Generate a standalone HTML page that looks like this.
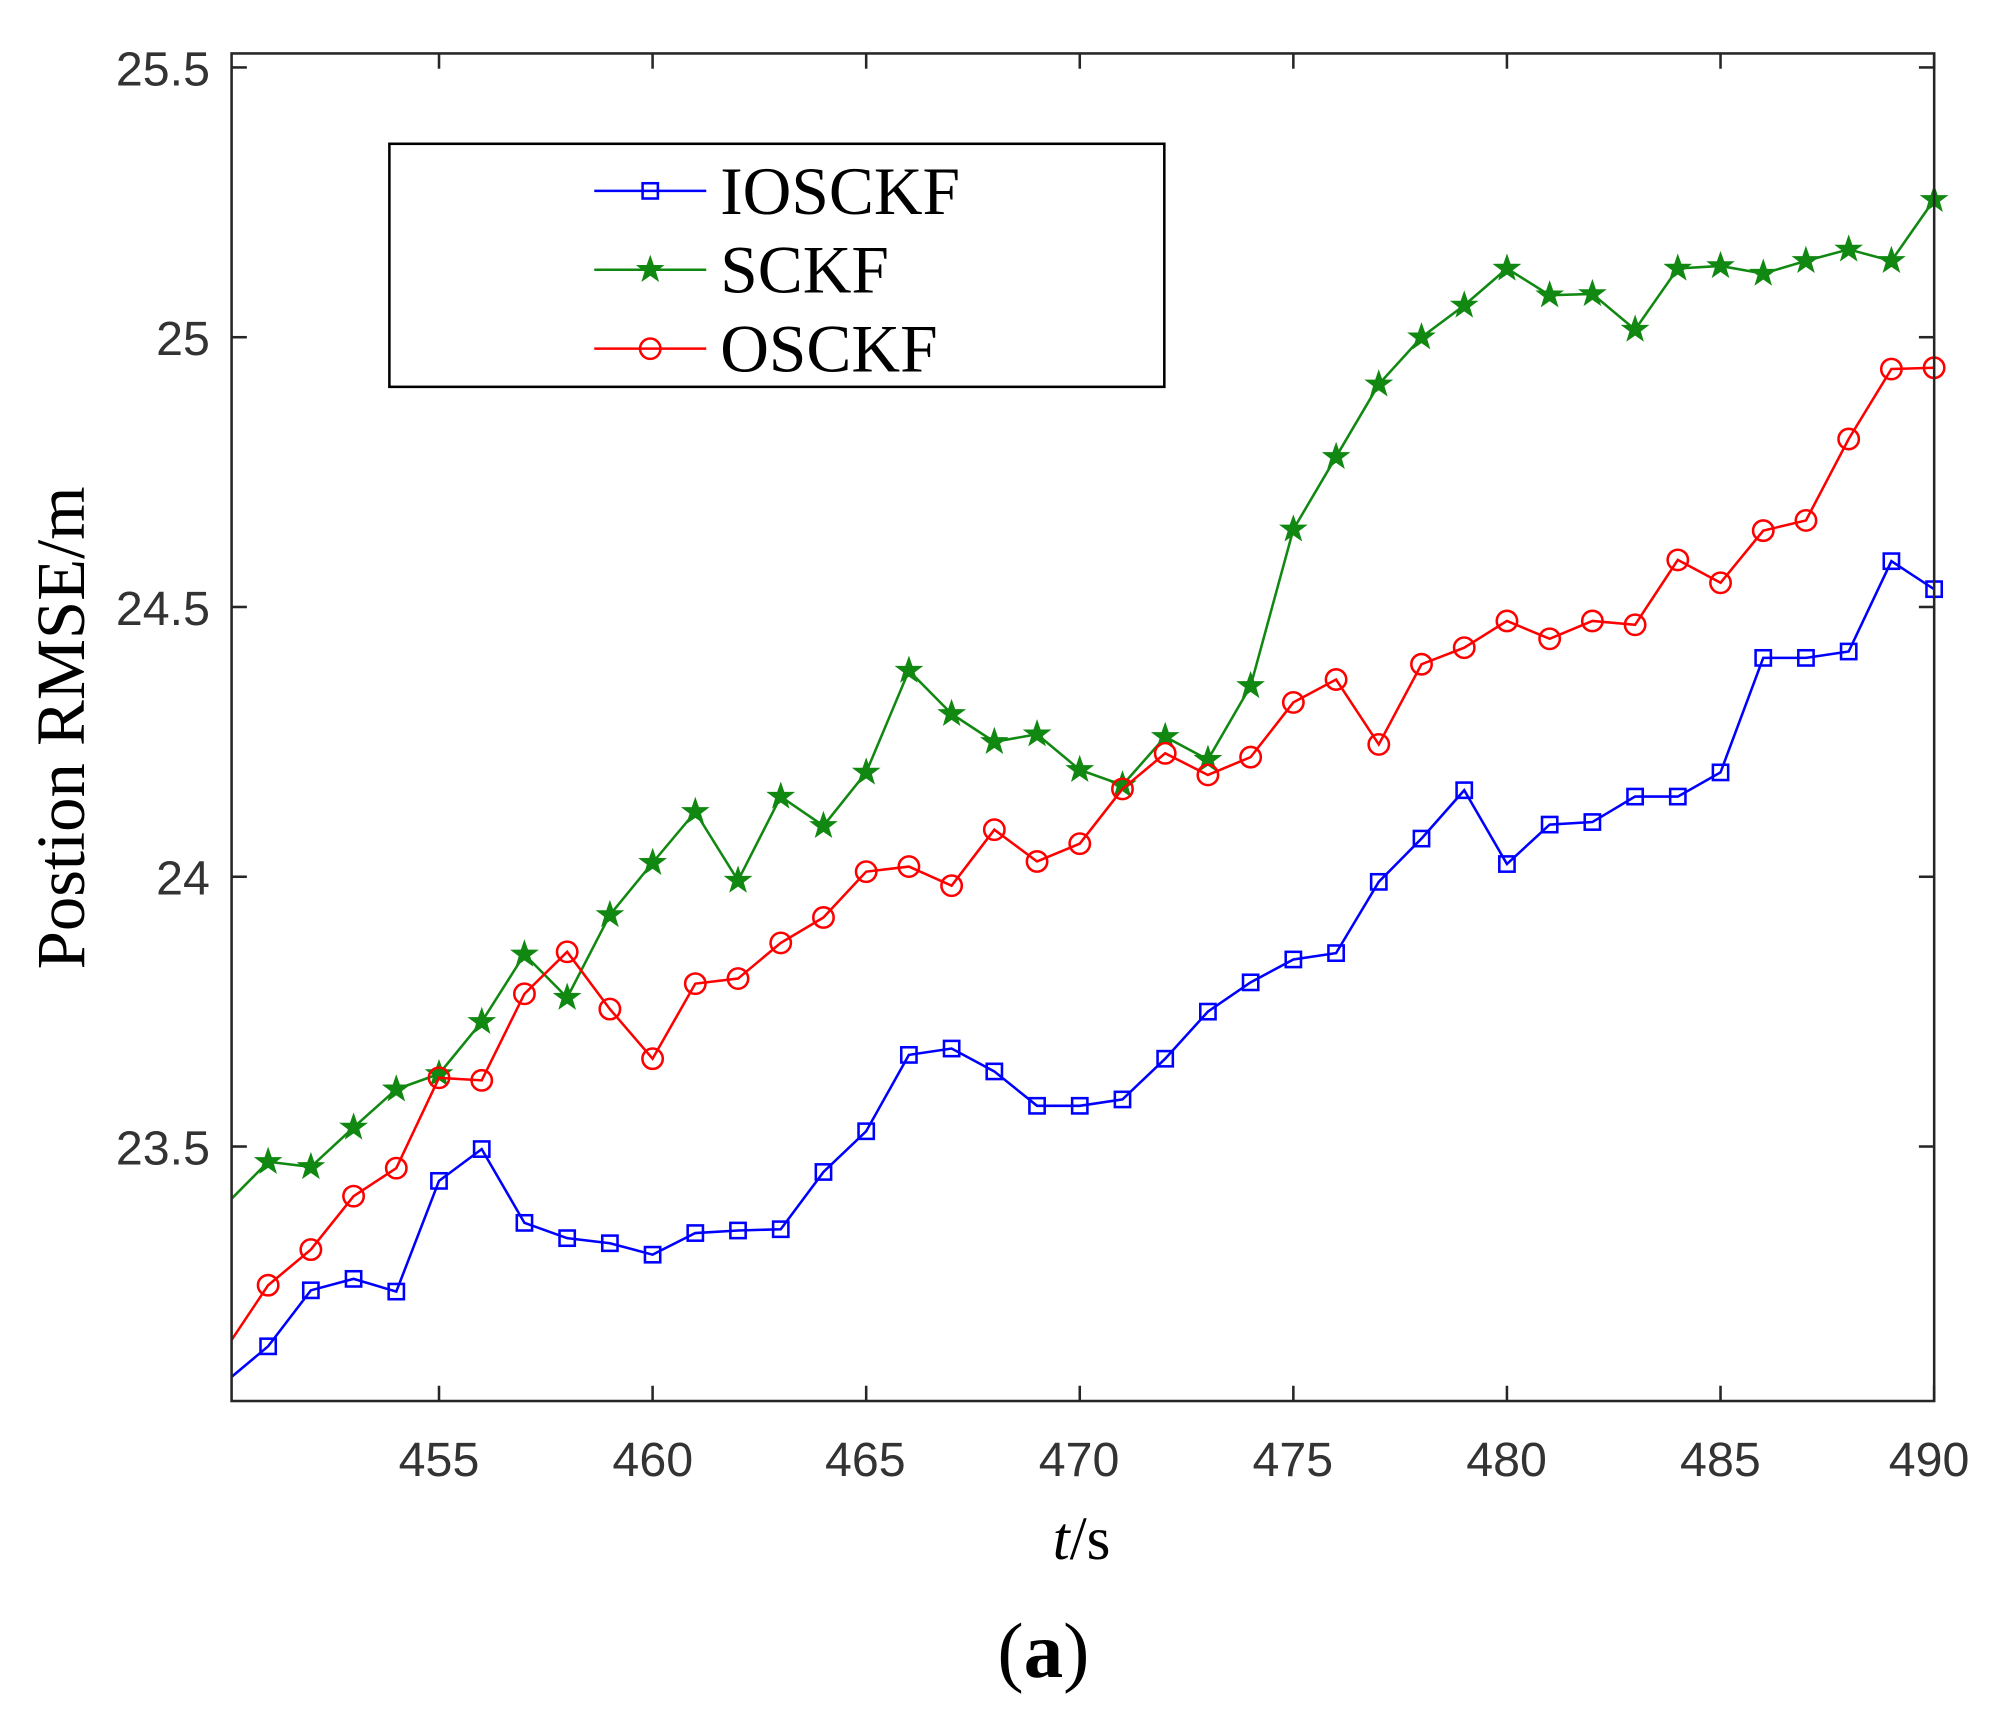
<!DOCTYPE html>
<html><head><meta charset="utf-8"><style>html,body{margin:0;padding:0;background:#fff;}svg{display:block;}</style></head>
<body>
<svg id="s" width="1995" height="1711" viewBox="0 0 1567.8 1344.6" preserveAspectRatio="none" xmlns="http://www.w3.org/2000/svg">
<rect x="0" y="0" width="1568" height="1345" fill="#fff"/>
<g id="ticks" stroke="#262626" stroke-width="2"></g>
<g id="series"></g>
<rect x="182" y="42" width="1338" height="1059" fill="none" stroke="#262626" stroke-width="2"/>
<g font-family="Liberation Sans, sans-serif" font-size="38" fill="#333" text-anchor="end">
<text x="165" y="67">25.5</text><text x="165" y="279">25</text><text x="165" y="491">24.5</text><text x="165" y="703">24</text><text x="165" y="915">23.5</text>
</g>
<g font-family="Liberation Sans, sans-serif" font-size="38" fill="#333" text-anchor="middle">
<text x="345" y="1160">455</text><text x="513" y="1160">460</text><text x="680" y="1160">465</text><text x="848" y="1160">470</text><text x="1016" y="1160">475</text><text x="1184" y="1160">480</text><text x="1352" y="1160">485</text><text x="1516" y="1160">490</text>
</g>
<text x="850" y="1225" font-family="Liberation Serif, serif" font-size="48" text-anchor="middle"><tspan font-style="italic">t</tspan>/s</text>
<text x="820" y="1318" font-family="Liberation Serif, serif" font-size="62" text-anchor="middle">(<tspan font-weight="bold">a</tspan>)</text>
<text transform="translate(66,572) rotate(-90)" font-family="Liberation Serif, serif" font-size="54" text-anchor="middle">Postion RMSE/m</text>
<rect x="306" y="113" width="609" height="191" fill="#fff" stroke="#000" stroke-width="2"/>
<g id="leg"></g>
<g font-family="Liberation Serif, serif" font-size="53" fill="#000">
<text x="566" y="168">IOSCKF</text><text x="566" y="230">SCKF</text><text x="566" y="292">OSCKF</text>
</g>
</svg>
<script>
const NS="http://www.w3.org/2000/svg";
function el(p,t,a){const e=document.createElementNS(NS,t);for(const k in a)e.setAttribute(k,a[k]);p.appendChild(e);return e;}
const tk=document.getElementById('ticks');
[53,265,477,689,901].forEach(y=>{el(tk,'line',{x1:182,y1:y,x2:194,y2:y});el(tk,'line',{x1:1508,y1:y,x2:1520,y2:y});});
for(let t=455;t<=490;t+=5){const x=345+(t-455)*33.57;el(tk,'line',{x1:x,y1:1101,x2:x,y2:1089});el(tk,'line',{x1:x,y1:42,x2:x,y2:54});}
const X=t=>345+(t-455)*33.57;
const blue=[1058,1014,1005,1015,928,903,961,973,977,986,969,967,966,921,889,829,824,842,869,869,864,832,795,772,754,749,693,659,621,679,648,646,626,626,607,517,517,512,441,463];
const green=[913,917,886,856,844,803,750,784,719,678,638,692,626,649,607,527,561,583,577,605,617,579,597,539,416,359,302,265,240,211,232,231,259,211,209,215,205,196,205,157];
const red=[1010,982,940,918,847,849,781,748,793,832,773,769,741,721,685,681,696,652,677,663,620,592,609,595,552,534,585,522,509,488,502,488,491,440,458,417,409,345,290,289];
const g=document.getElementById('series');
function star(cx,cy,r){let p=[];for(let i=0;i<10;i++){const a=-Math.PI/2+i*Math.PI/5;const rr=i%2?r*0.4:r;p.push((cx+rr*Math.cos(a)).toFixed(1)+','+(cy+rr*Math.sin(a)).toFixed(1));}return p.join(' ');}
function mark(p,type,x,y,c){
 if(type==='sq')el(p,'rect',{x:x-6,y:y-6,width:12,height:12,fill:'none',stroke:c,'stroke-width':2});
 else if(type==='ci')el(p,'circle',{cx:x,cy:y,r:8,fill:'none',stroke:c,'stroke-width':2});
 else el(p,'polygon',{points:star(x,y,10),fill:c,stroke:c,'stroke-width':1.2});
}
function series(d,start,c,type){
 let pts=[[182,start]];d.forEach((y,i)=>pts.push([X(451+i),y]));
 el(g,'polyline',{points:pts.map(p=>p.join(',')).join(' '),fill:'none',stroke:c,'stroke-width':2});
 d.forEach((y,i)=>mark(g,type,X(451+i),y,c));
}
series(blue,1082,'#0000ff','sq');
series(green,942,'#118811','st');
series(red,1053,'#ff0000','ci');
const lg=document.getElementById('leg');
[['#0000ff','sq',150],['#118811','st',212],['#ff0000','ci',274]].forEach(([c,t,y])=>{el(lg,'line',{x1:467,y1:y,x2:555,y2:y,stroke:c,'stroke-width':2});mark(lg,t,511,y,c);});
</script>
</body></html>
